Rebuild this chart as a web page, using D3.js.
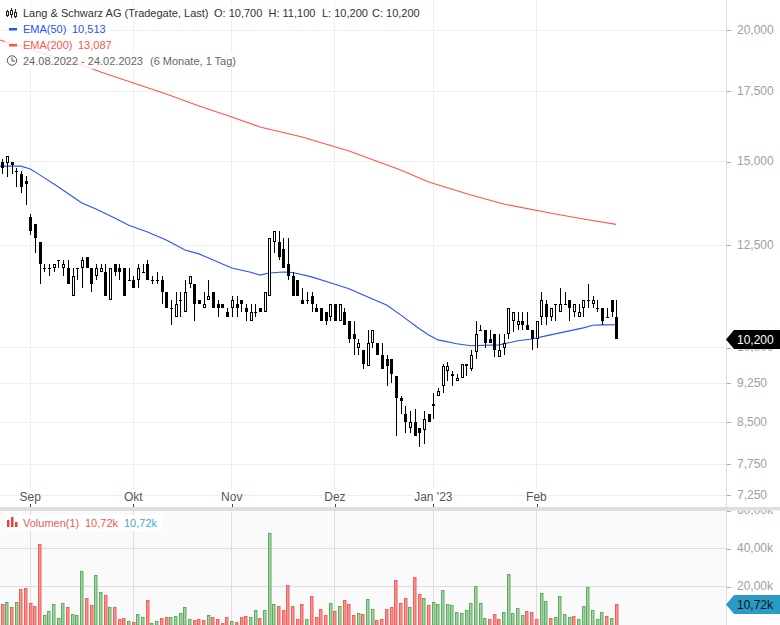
<!DOCTYPE html>
<html><head><meta charset="utf-8">
<script src="https://cdn.jsdelivr.net/npm/d3@7"></script>
<style>html,body{margin:0;padding:0;background:#fff}svg{display:block;font-family:"Liberation Sans",Arial,sans-serif}</style>
</head><body><svg id="c" width="780" height="625"></svg>
<script>
const opens=[15000,14950,15000,14700,14600,14400,13300,13100,12600,11900,11900,11900,12100,11900,11900,11200,11900,11900,12200,11900,11700,11800,11800,11100,12000,11900,11900,11600,11600,11600,11800,12000,11600,11600,11600,11300,10900,10700,11100,10800,11500,11500,11100,10900,11100,11300,11000,11000,10800,10900,11000,11100,10900,10600,10800,10900,10800,11200,12600,12600,12400,12000,11700,11600,11100,11100,11200,10900,10900,10800,10700,11000,10600,10800,10600,10300,10000,9950,9600,10100,10100,9850,9750,9750,9400,8950,8650,8400,8500,8400,8350,8650,8800,9000,9200,9500,9400,9300,9350,9600,9550,9900,10400,10400,10200,10300,9800,10000,10300,10600,10500,10600,10500,10400,10200,10700,11000,10700,11000,10800,11000,11100,10800,10700,10900,11100,11000,10900,10900,10700,11100,10700];
const highs=[15100,15200,15000,14800,14700,14550,13400,13100,12600,12000,12000,12000,12100,12100,12100,11900,11900,12200,12200,11900,12000,12000,12000,11900,12000,12000,11900,11900,11700,12000,12000,12100,11700,11800,11700,11300,11100,11300,11300,11600,11700,11500,11100,11300,11600,11300,11100,11000,10900,11200,11200,11100,11000,11000,11000,10900,11300,12700,12900,12900,12700,12700,11800,11600,11400,11300,11300,11000,10900,10800,11000,11000,11000,10900,10600,10600,10200,9950,10400,10400,10100,10100,9850,9750,9400,9000,8800,8700,8750,8400,8700,8650,9050,9150,9650,9700,9500,9450,9650,9650,9950,10600,10500,10400,10400,10300,10300,10300,10900,10800,10800,10800,10800,10400,10600,11300,11100,10900,11000,11400,11300,11100,11000,11000,11100,11500,11200,11100,10900,10900,11100,11100];
const lows=[14600,14500,14600,14200,14000,13650,12800,12300,11500,11800,11700,11800,11900,11700,11500,11200,11600,11400,11900,11300,11600,11800,11200,11100,11700,11600,11200,11600,11400,11400,11800,11600,11500,11500,11000,10900,10500,10700,10700,10800,11400,10600,11000,10900,11100,10900,10700,10900,10700,10700,10700,10800,10600,10600,10700,10800,10800,11200,12300,12100,11900,11600,11200,11200,11000,11000,10800,10800,10600,10500,10600,10600,10600,10500,10100,9850,9850,9550,9600,10000,9850,9550,9200,9250,8250,8650,8300,8300,8250,8050,8100,8500,8550,9000,9050,9300,9200,9300,9350,9400,9500,9750,10400,10000,10100,9800,9800,9850,10200,10350,10400,10400,10400,9950,10000,10500,10500,10600,10600,10800,11000,10600,10700,10700,10700,10900,10900,10800,10500,10700,10700,10200];
const closes=[14800,15200,14900,14700,14200,14300,12900,12700,12000,11900,11900,12000,12100,12000,11500,11700,11900,12100,11900,11500,11900,11900,11200,11900,11800,11800,11200,11600,11400,11900,11800,11600,11600,11600,11300,10900,10900,11000,11100,11300,11700,11000,11000,11000,11200,10900,10900,10900,10700,11100,10900,11000,10800,10800,10800,10800,11300,12700,12900,12200,11900,11700,11200,11200,11000,11100,11000,10800,10600,10600,11000,10600,11000,10500,10200,10200,10100,9650,10100,10400,9850,9550,9600,9450,8950,8900,8500,8500,8250,8300,8550,8500,8850,9100,9600,9600,9450,9350,9650,9650,9850,10300,10400,10100,10100,9950,9950,10100,10900,10800,10600,10500,10400,10200,10600,11100,10700,10900,11000,11000,11000,10900,11000,10800,11100,11100,11100,10900,10600,10700,10800,10200];
const emaIndex50=[-1,4,6,8,12,17,20,24,27,31,35,39,42,44,49,53,55,57,60,62,66,70,74,78,82,85,89,91,93,97,100,106,110,113,116,120,124,126,128,131];
const ema50=[14860,14860,14765,14580,14200,13710,13530,13270,13060,12870,12650,12375,12270,12160,11900,11790,11715,11770,11795,11780,11670,11520,11370,11170,10975,10740,10420,10280,10170,10085,10040,10060,10150,10190,10260,10350,10440,10500,10510,10513];
const emaIndex200=[-1,17,21,28,35,42,49,55,64,74,85,91,100,107,118,124,131];
const ema200=[19600,18530,18250,17815,17390,16945,16540,16185,15835,15360,14735,14355,13955,13680,13385,13242,13087];
const volumes=[10.8,11.7,9.0,11.7,18.5,19.0,11.1,9.6,42.2,4.8,6.9,10.6,3.2,11.1,9.0,5.3,4.8,28.0,13.8,10.1,25.9,16.9,15.3,9.0,9.0,2.7,3.2,1.7,1.1,5.3,3.8,12.7,0.6,1.7,3.2,3.8,3.8,4.3,5.9,9.0,2.7,2.2,2.7,2.2,4.8,3.8,2.7,0.6,3.8,1.7,1.1,3.8,4.3,3.8,7.5,3.2,7.5,48.0,10.6,9.6,7.5,20.6,9.6,2.7,10.6,2.7,14.8,3.8,8.0,4.8,11.1,6.9,9.6,12.7,10.6,4.8,5.9,5.3,13.2,8.0,2.2,2.7,8.0,9.0,23.2,11.1,13.8,9.0,24.8,15.9,13.8,10.1,11.7,10.6,18.0,10.6,10.1,6.4,5.9,7.5,11.1,20.1,11.1,3.2,2.7,5.3,2.7,6.4,26.4,5.9,8.5,4.8,6.9,6.4,2.7,16.4,12.2,3.2,3.8,14.8,5.3,3.8,4.3,2.7,9.6,19.6,7.5,2.7,6.4,4.3,3.2,10.72];
const volUp="r g r g r r r r r g g g g g r g g g r r g g r g r r r g r g g r g g r r g g g g g r r r g r r r r g r r r g g r g g g r r r r r r g r r r r g r g r r r g r g g r r r r r r r g r r g r g g g g g g g g g g g g r r r g g g g g r r r g g r g g g g r g g g g g g r g r r".split(" ");
const priceTicks=[20000,17500,15000,12500,10000,9250,8500,7750,7250];
const volTicks=[60,40,20];
const monthIndex=[6,28,49,71,92,114];
const monthLabels=["Sep","Okt","Nov","Dez","Jan '23","Feb"];
const titleText="Lang & Schwarz AG (Tradegate, Last)";
const ohlcLabels=["O: 10,700","H: 11,100","L: 10,200","C: 10,200"];
const rangeLabels=["24.08.2022 - 24.02.2023","(6 Monate, 1 Tag)"];

const svg=d3.select("#c");
const W=726.5;
const x=d3.scaleLinear().domain([0,131]).range([2.2,616.2]);
const y=d3.scaleLog().domain([20000,7250]).range([30,495]);
const yv=d3.scaleLinear().domain([0,60]).range([624.5,510.5]);
const fmtV=v=>d3.format(".2f")(v).replace(".",",")+"k";

svg.append("rect").attr("x",0).attr("y",510).attr("width",W).attr("height",115).attr("fill","#fafafa");
const defs=svg.append("defs");
defs.append("clipPath").attr("id","cp").append("rect").attr("x",0).attr("y",0).attr("width",W).attr("height",503);
defs.append("clipPath").attr("id","cv").append("rect").attr("x",0).attr("y",510.5).attr("width",780).attr("height",115);

const grid=svg.append("g").attr("shape-rendering","crispEdges");
grid.selectAll(".h").data(priceTicks).join("line").attr("class","h").attr("x1",0).attr("x2",W).attr("y1",d=>y(d)).attr("y2",d=>y(d)).attr("stroke","#eeeeee");
grid.selectAll(".v").data(monthIndex).join("line").attr("class","v").attr("x1",d=>x(d)).attr("x2",d=>x(d)).attr("y1",0).attr("y2",504).attr("stroke","#eeeeee");
grid.selectAll(".hv").data(volTicks).join("line").attr("class","hv").attr("x1",0).attr("x2",W).attr("y1",d=>yv(d)).attr("y2",d=>yv(d)).attr("stroke","#dddddd");
grid.selectAll(".vv").data(monthIndex).join("line").attr("class","vv").attr("x1",d=>x(d)).attr("x2",d=>x(d)).attr("y1",510).attr("y2",625).attr("stroke","#dddddd");

const vol=svg.append("g").attr("clip-path","url(#cv)");
vol.selectAll("rect").data(volumes).join("rect")
  .attr("x",(d,i)=>Math.round(x(i)-0.7)-1+0.5).attr("width",2.5)
  .attr("y",d=>Math.round(yv(d))+0.5).attr("height",d=>Math.max(0,625-yv(d)))
  .attr("fill",(d,i)=>volUp[i]==="g"?"#a0d6a0":"#f9928c")
  .attr("stroke",(d,i)=>volUp[i]==="g"?"#5fa964":"#ec625c").attr("stroke-width",1);

const lineOf=(idx)=>d3.line().x((d,i)=>x(idx[i])).y(d=>y(d));
const ch=svg.append("g").attr("clip-path","url(#cp)");
ch.append("path").attr("d",lineOf(emaIndex200)(ema200)).attr("fill","none").attr("stroke","#ff5548").attr("stroke-width",1.1);
ch.append("path").attr("d",lineOf(emaIndex50)(ema50)).attr("fill","none").attr("stroke","#2b50ff").attr("stroke-width",1.1);

const cg=ch.append("g").attr("shape-rendering","crispEdges");
const idx=d3.range(opens.length);
cg.selectAll(".w").data(idx).join("rect").attr("class","w").attr("x",i=>Math.round(x(i))).attr("width",1)
  .attr("y",i=>Math.round(y(highs[i]))).attr("height",i=>Math.max(1,Math.round(y(lows[i]))-Math.round(y(highs[i]))))
  .attr("fill","#000");
cg.selectAll(".b").data(idx).join("rect").attr("class","b")
  .each(function(i){
    const t=Math.round(y(Math.max(opens[i],closes[i]))),b=Math.round(y(Math.min(opens[i],closes[i])));
    const cx=Math.round(x(i)),s=d3.select(this);
    if(closes[i]>opens[i]){
      s.attr("x",cx-0.5).attr("width",2).attr("y",t+0.5).attr("height",Math.max(1,b-t-1)).attr("fill","#fff").attr("stroke","#000").attr("stroke-width",1);
    }else{
      s.attr("x",cx-1).attr("width",3).attr("y",t).attr("height",Math.max(1,b-t)).attr("fill","#000");
    }
  });

const leg=svg.append("g");
const rows=[[5,5,415],[5,21,105],[5,37,111],[5,53,232]];
leg.selectAll("rect").data(rows).join("rect").attr("x",d=>d[0]).attr("y",d=>d[1]).attr("width",d=>d[2]).attr("height",16).attr("fill","#fff").attr("fill-opacity",0.8);
const txt=(s,px,py,col)=>leg.append("text").attr("x",px).attr("y",py).attr("fill",col).attr("font-size",11).text(s);
txt(titleText,23,17,"#333");
[214,268.5,322,372].forEach((px,i)=>txt(ohlcLabels[i],px,17,"#333"));
txt("EMA(50)",23,33,"#2b50ff");txt(d3.format(",")(ema50[ema50.length-1]),72,33,"#2b50ff");
txt("EMA(200)",23,49,"#ff5548");txt(d3.format(",")(ema200[ema200.length-1]),78,49,"#ff5548");
txt(rangeLabels[0],23,65,"#666");txt(rangeLabels[1],150,65,"#666");
leg.append("rect").attr("x",9).attr("y",28).attr("width",8).attr("height",2.5).attr("fill","#2b50ff");
leg.append("rect").attr("x",9).attr("y",44).attr("width",8).attr("height",2.5).attr("fill","#ff5548");
leg.append("circle").attr("cx",12).attr("cy",60.5).attr("r",4.7).attr("fill","none").attr("stroke","#555").attr("stroke-width",1);
leg.append("path").attr("d","M12 57.5V61H15").attr("fill","none").attr("stroke","#555");
const ic=leg.append("g").attr("fill","none").attr("stroke","#222").attr("stroke-width",1).attr("shape-rendering","crispEdges");
[[7.5,10,17,11,15],[11.5,8,18,10,14],[15.5,9,18,12,16]].forEach(a=>{
  ic.append("path").attr("d",`M${a[0]} ${a[1]}V${a[2]}`);
  ic.append("rect").attr("x",a[0]-1).attr("y",a[3]).attr("width",2).attr("height",a[4]-a[3]).attr("fill","#fff");
});

svg.append("rect").attr("x",0).attr("y",507).attr("width",780).attr("height",3.5).attr("fill","#dedede");

const xg=svg.append("g").attr("transform","translate(0,504)")
  .call(d3.axisBottom(x).tickValues(monthIndex).tickFormat((d,i)=>monthLabels[i]).tickSize(3).tickPadding(0));
xg.select(".domain").remove();
xg.selectAll(".tick line").attr("stroke","#444").attr("shape-rendering","crispEdges");
xg.selectAll(".tick text").attr("x",-0.6).attr("y",-3.5).attr("dy",0).attr("fill","#555").attr("font-size",12).attr("font-family",'"Liberation Sans",Arial,sans-serif').attr("text-anchor","middle")
  .each(function(){
    const b=this.getBBox();
    d3.select(this.parentNode).insert("rect","text").attr("x",b.x-1).attr("y",b.y).attr("width",b.width+2).attr("height",b.height).attr("fill","#fff");
  });

svg.append("line").attr("x1",726.5).attr("x2",726.5).attr("y1",0).attr("y2",625).attr("stroke","#dddddd");

const ya=svg.append("g").attr("transform","translate(727,0)")
  .call(d3.axisRight(y).tickValues(priceTicks).tickFormat(d3.format(",")).tickSize(4).tickPadding(6));
const yb=svg.append("g").attr("transform","translate(727,0)").attr("clip-path","url(#cv)")
  .call(d3.axisRight(yv).tickValues(volTicks).tickFormat(fmtV).tickSize(4).tickPadding(6));
[ya,yb].forEach(g=>{
  g.select(".domain").remove();
  g.selectAll(".tick line").attr("stroke","#aaaaaa").attr("shape-rendering","crispEdges");
  g.selectAll(".tick text").attr("fill","#a0a0a0").attr("font-size",12).attr("dy","0.26em").attr("font-family",'"Liberation Sans",Arial,sans-serif');
});

function tag(v,sc,col,tc,s){
  const c=Math.round(sc(v))+0.5;
  svg.append("path").attr("d",`M726 ${c}L734 ${c-9.5}H780V${c+9.5}H734Z`).attr("fill",col);
  svg.append("text").attr("x",737).attr("y",c+4).attr("fill",tc).attr("font-size",12).text(s);
}
tag(closes[closes.length-1],y,"#000","#fff",d3.format(",")(closes[closes.length-1]));
tag(volumes[volumes.length-1],yv,"#2a9bc5","#111",fmtV(volumes[volumes.length-1]));

const vl=svg.append("g");
vl.append("rect").attr("x",5).attr("y",515).attr("width",158).attr("height",16).attr("fill","#fff");
const vBars=[[7,520,2.5],[11,517,2.5],[15,522,2.5]];
vl.selectAll(".i").data(vBars).join("rect").attr("class","i").attr("x",d=>d[0]).attr("y",d=>d[1]).attr("width",d=>d[2]).attr("height",d=>527-d[1]).attr("fill","#e2453c");
vl.append("text").attr("x",23).attr("y",527).attr("fill","#ee5a50").attr("font-size",11).text("Volumen(1)");
vl.append("text").attr("x",85).attr("y",527).attr("fill","#ee5a50").attr("font-size",11).text(fmtV(volumes[volumes.length-1]));
vl.append("text").attr("x",124).attr("y",527).attr("fill","#4aa8d0").attr("font-size",11).text(fmtV(volumes[volumes.length-1]));
</script></body></html>
